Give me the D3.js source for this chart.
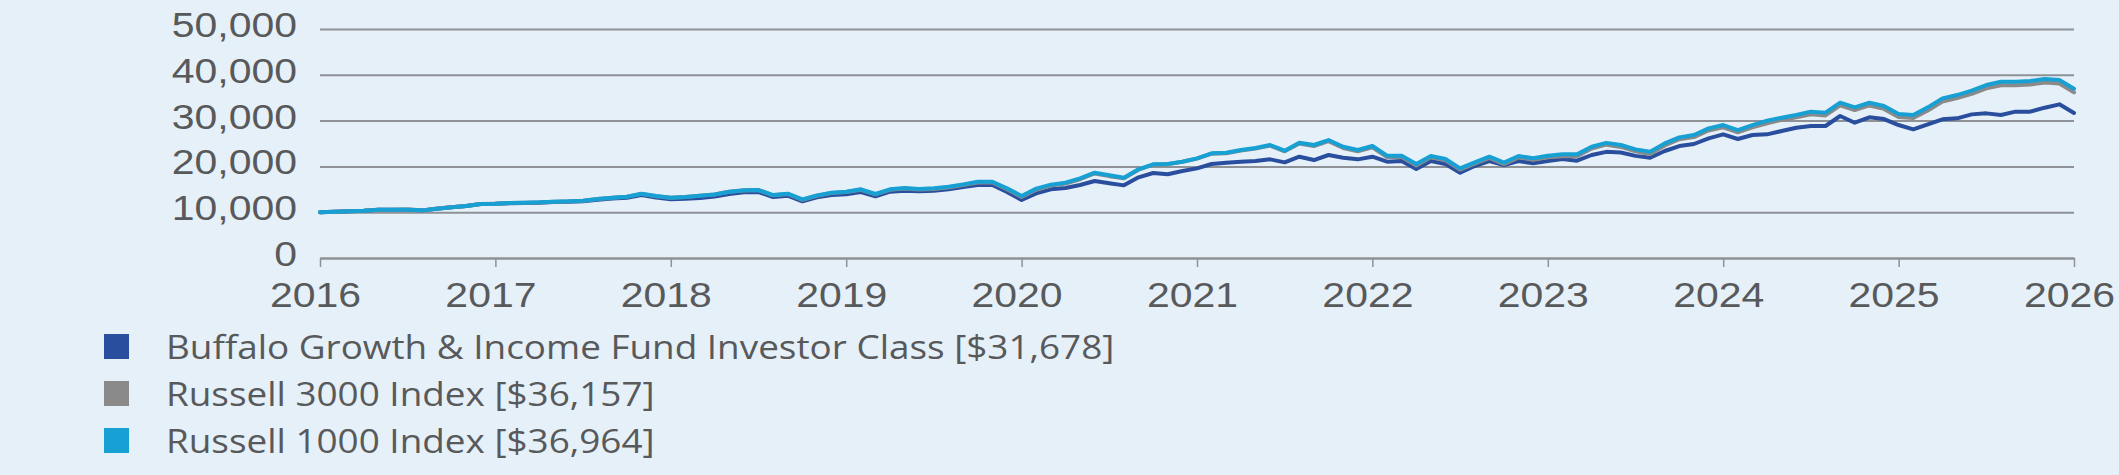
<!DOCTYPE html>
<html>
<head>
<meta charset="utf-8">
<script src="https://cdn.jsdelivr.net/npm/d3@7/dist/d3.min.js"></script>
<style>
body { margin: 0; background: #e6f0f9; }
svg { display: block; }
</style>
</head>
<body>
<div id="chart"></div>
<script>
// year labels on the x axis (one every 12 monthly points)
var years = [2016, 2017, 2018, 2019, 2020, 2021, 2022, 2023, 2024, 2025, 2026];
var yTicks = [0, 10000, 20000, 30000, 40000, 50000];

var seriesNames = [
    'Buffalo Growth & Income Fund Investor Class [$31,678]',
    'Russell 3000 Index [$36,157]',
    'Russell 1000 Index [$36,964]'
];

// growth of $10,000, monthly points
var buffalo = [10000, 10117, 10190, 10330, 10550, 10550, 10560, 10400, 10770, 11060, 11340, 11770, 11830,
    11970, 12030, 12090, 12220, 12280, 12400, 12730, 12980, 13150, 13760, 13220, 12820,
    12950, 13100, 13400, 13970, 14330, 14410, 13320, 13610, 12370, 13240, 13750, 13900,
    14410, 13460, 14480, 14700, 14550, 14700, 14990, 15500, 15940, 15940, 14410, 12660,
    14120, 14990, 15280, 15940, 16810, 16300, 15860, 17610, 18560, 18300, 18990, 19570,
    20520, 20810, 21030, 21180, 21540, 20880, 22120, 21390, 22490, 21900, 21540, 22120,
    21030, 21180, 19430, 21180, 20520, 18630, 20080, 21180, 20300, 21180, 20670, 21180,
    21610, 21250, 22490, 23180, 23030, 22300, 21900, 23360, 24450, 24890, 26120, 27000,
    25980, 26850, 27000, 27720, 28450, 28820, 28820, 31000, 29540, 30710, 30340, 29030,
    28090, 29180, 30270, 30490, 31360, 31580, 31220, 31950, 31950, 32820, 33550, 31678];

var russell3000 = [10000, 10115, 10190, 10330, 10555, 10560, 10570, 10400, 10790, 11080, 11360, 11790, 11870,
    12010, 12070, 12140, 12290, 12360, 12520, 12880, 13150, 13360, 14000, 13500, 13150,
    13300, 13620, 13860, 14480, 14760, 14820, 13680, 13980, 12700, 13600, 14200, 14400,
    14900, 13880, 14900, 15170, 14930, 15060, 15400, 15930, 16500, 16480, 15040, 13320,
    14900, 15800, 16250, 17200, 18460, 17870, 17400, 19280, 20380, 20500, 21000, 21700,
    22770, 22880, 23450, 23880, 24530, 23290, 24990, 24430, 25500, 24020, 23310, 24180,
    22060, 22050, 20220, 21990, 21330, 19300, 20600, 21840, 20510, 21980, 21460, 21990,
    22230, 22240, 23890, 24740, 24250, 23280, 22700, 24560, 25930, 26400, 27830, 28540,
    27430, 28530, 29430, 30150, 30720, 31400, 31130, 33350, 32310, 33310, 32560, 30800,
    30590, 32220, 34180, 34920, 35860, 37030, 37700, 37740, 37880, 38310, 38080, 36157];

var russell1000 = [10000, 10117, 10190, 10330, 10550, 10550, 10560, 10400, 10770, 11060, 11350, 11790, 11860,
    12010, 12080, 12150, 12300, 12370, 12520, 12880, 13170, 13390, 14040, 13540, 13170,
    13320, 13610, 13850, 14480, 14770, 14840, 13750, 14040, 12810, 13680, 14260, 14480,
    14990, 13970, 14990, 15280, 15060, 15210, 15570, 16080, 16660, 16660, 15210, 13540,
    15140, 16010, 16450, 17390, 18630, 18050, 17540, 19360, 20450, 20520, 21030, 21760,
    22850, 22990, 23580, 24010, 24670, 23430, 25180, 24670, 25760, 24300, 23580, 24450,
    22340, 22340, 20520, 22270, 21610, 19570, 20880, 22120, 20810, 22270, 21760, 22340,
    22630, 22630, 24300, 25140, 24670, 23720, 23210, 25030, 26340, 26850, 28310, 29030,
    27940, 29030, 29980, 30640, 31220, 31950, 31730, 33910, 32890, 33910, 33180, 31440,
    31220, 32890, 34860, 35580, 36530, 37770, 38490, 38490, 38640, 39080, 38860, 36964];

var colors = ['#2a4e9e', '#8a8a8a', '#16a0d3'];
var allSeries = [buffalo, russell3000, russell1000];

var svgwidth = 2119;
var svgheight = 475;
var plotLeft = 320, plotRight = 2074, plotTop = 29, plotBottom = 258;
var stretch = 1.17;        // axis text in the original is a bit wider than Arial
var legendStretch = 1.153;
var textColor = '#58595b';
var gridColor = '#8e9196';

var svg = d3.select('#chart')
    .append('svg')
    .attr('width', svgwidth)
    .attr('height', svgheight)
    .style('background', '#e6f0f9')

var xscale = d3.scaleLinear()
    .domain([0, 120])
    .range([plotLeft, plotRight])

var yscale = d3.scaleLinear()
    .domain([0, 50000])
    .range([plotBottom, plotTop])

// horizontal gridlines
var grid = svg.append('g')
    .attr('transform', 'translate(' + plotLeft + ',0)')
    .call(d3.axisLeft(yscale).tickValues(yTicks).tickSize(-(plotRight - plotLeft)).tickFormat(''))
grid.select('.domain').remove()
grid.selectAll('line').attr('stroke', gridColor).attr('stroke-width', 2)

// y labels
var yaxis = svg.append('g')
    .attr('transform', 'translate(' + (plotLeft - 23) + ',0)')
    .call(d3.axisLeft(yscale).tickValues(yTicks).tickSize(0).tickPadding(0).tickFormat(d3.format(',')))
yaxis.select('.domain').remove()
yaxis.selectAll('text')
    .attr('x', 0)
    .attr('y', 7.5)
    .attr('dy', null)
    .attr('transform', 'scale(' + stretch + ',1)')
    .style('font-family', '"Liberation Sans", Arial, sans-serif')
    .style('font-size', '35px')
    .attr('fill', textColor)

// x axis
var xaxis = svg.append('g')
    .attr('transform', 'translate(0,' + plotBottom + ')')
    .call(d3.axisBottom(xscale)
        .tickValues(d3.range(0, 121, 12))
        .tickSize(9)
        .tickSizeOuter(0)
        .tickFormat(function(d, i) { return years[i]; }))
xaxis.select('.domain').attr('stroke', gridColor).attr('stroke-width', 2)
xaxis.selectAll('line').attr('stroke', gridColor).attr('stroke-width', 1.5)
xaxis.selectAll('text')
    .attr('x', -5 / stretch)
    .attr('y', 49)
    .attr('dy', null)
    .attr('transform', 'scale(' + stretch + ',1)')
    .style('font-family', '"Liberation Sans", Arial, sans-serif')
    .style('font-size', '35px')
    .attr('fill', textColor)

// lines
var line = d3.line()
    .x(function(d, i) { return xscale(i); })
    .y(function(d) { return yscale(d); })

svg.append('g').selectAll('.series')
    .data(allSeries)
    .enter()
    .append('path')
    .attr('class', 'series')
    .attr('d', line)
    .attr('fill', 'none')
    .attr('stroke', function(d, i) { return colors[i]; })
    .attr('stroke-width', 4)
    .attr('stroke-linejoin', 'round')
    .attr('stroke-linecap', 'round')

// legend
var legend = svg.append('g').selectAll('.legend')
    .data(seriesNames)
    .enter()
    .append('g')
    .attr('class', 'legend')
    .attr('transform', function(d, i) { return 'translate(104,' + (359 + i * 47) + ')'; })

legend.append('rect')
    .attr('x', 0)
    .attr('y', -25)
    .attr('width', 25)
    .attr('height', 25)
    .attr('fill', function(d, i) { return colors[i]; })

legend.append('text')
    .attr('transform', 'translate(62,0) scale(' + legendStretch + ',1)')
    .text(function(d) { return d; })
    .style('font-family', '"Open Sans", sans-serif')
    .style('font-size', '32px')
    .attr('fill', textColor)
</script>
</body>
</html>
